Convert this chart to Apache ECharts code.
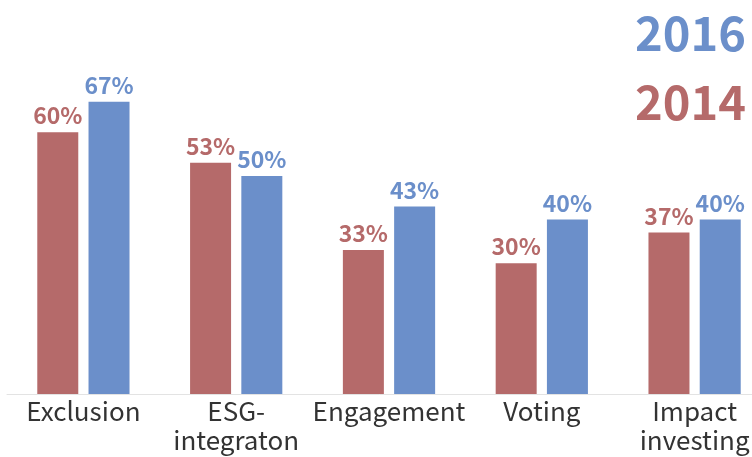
<!DOCTYPE html>
<html>
<head>
<meta charset="utf-8">
<script src="https://cdn.jsdelivr.net/npm/echarts@6/dist/echarts.min.js"></script>
<style>
  html, body { margin: 0; padding: 0; background: #fff; }
  #chart { width: 752px; height: 457px; }
</style>
</head>
<body>
<div id="chart"></div>
<script>
// 类目与数据
const categories = ['Exclusion', 'ESG-\nintegraton', 'Engagement', 'Voting', 'Impact\ninvesting'];
const values2014 = [60, 53, 33, 30, 37];
const values2016 = [67, 50, 43, 40, 40];

const RED = '#b56a6a';
const BLUE = '#6b8fca';
const FONT = '"Noto Sans CJK SC", "Noto Sans", sans-serif';

const chart = echarts.init(document.getElementById('chart'));

function barSeries (name, data, color) {
  return {
    name: name,
    type: 'bar',
    data: data,
    barWidth: 41,
    barGap: '25%',
    itemStyle: { color: color },
    label: {
      show: true,
      position: 'top',
      distance: 5,
      formatter: '{c}%',
      color: color,
      fontFamily: FONT,
      fontWeight: 'bold',
      fontSize: 23
    }
  };
}

chart.setOption({
  animation: false,
  legend: {
    orient: 'vertical',
    right: 1,
    top: 5,
    icon: 'none',
    itemWidth: 0,
    itemGap: 22,
    selectedMode: false,
    data: [
      { name: '2016', textStyle: { color: BLUE } },
      { name: '2014', textStyle: { color: RED } }
    ],
    textStyle: {
      fontFamily: FONT,
      fontWeight: 'bold',
      fontSize: 47,
      padding: 0
    }
  },
  // 网格略宽于画布，右侧类目贴边
  grid: {
    left: 7,
    width: 764,
    top: 45,
    bottom: 63,
    containLabel: false,
    outerBoundsMode: 'none'
  },
  xAxis: {
    type: 'category',
    data: categories,
    axisTick: { show: false },
    axisLine: { lineStyle: { color: '#e3e3e3', width: 1 } },
    axisLabel: {
      color: '#333',
      fontFamily: FONT,
      fontSize: 26,
      lineHeight: 29,
      margin: 3,
      interval: 0
    }
  },
  yAxis: {
    type: 'value',
    min: 0,
    max: 80,
    show: false,
    splitLine: { show: false }
  },
  series: [
    barSeries('2014', values2014, RED),
    barSeries('2016', values2016, BLUE)
  ]
});
</script>
</body>
</html>
